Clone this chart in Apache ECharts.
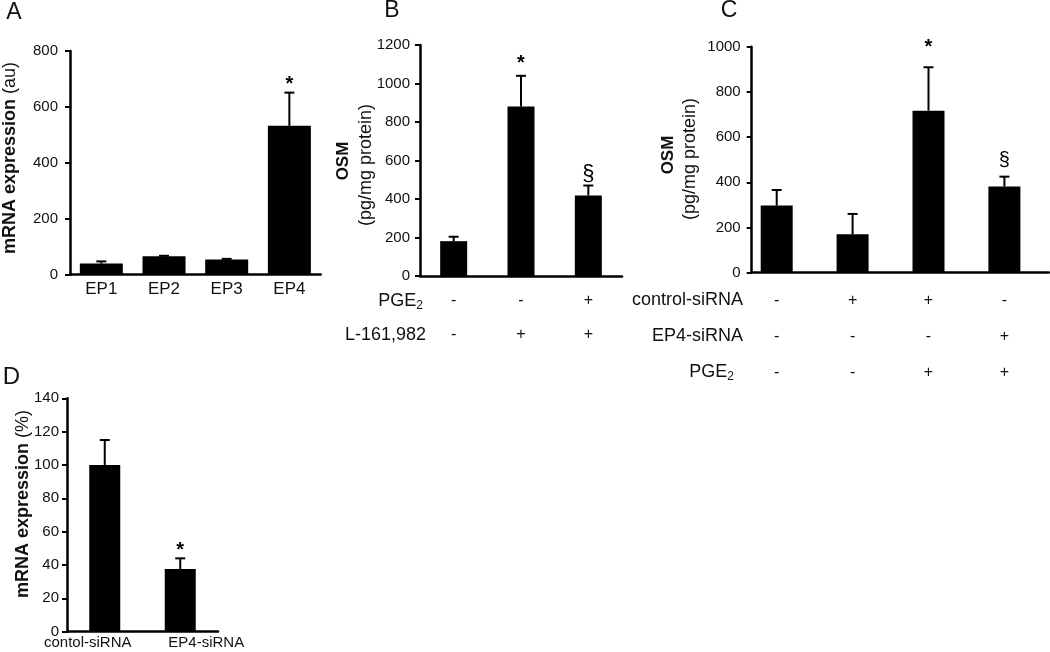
<!DOCTYPE html>
<html>
<head>
<meta charset="utf-8">
<script src="https://cdn.jsdelivr.net/npm/echarts@6/dist/echarts.min.js"></script>
<style>
html,body{margin:0;padding:0;background:#fff;}
#chart{width:1050px;height:652px;}
</style>
</head>
<body>
<div id="chart"></div>
<script>
// ---------- DATA ----------
// Panel A
const catsA = ['EP1', 'EP2', 'EP3', 'EP4'];
const valsA = [39, 65, 54, 532];
const errA  = [47, 67, 56, 651];
const markA = ['', '', '', '*'];
const ticksA = [0, 200, 400, 600, 800];

// Panel B
const pgeB   = ['-', '-', '+'];
const lB     = ['-', '+', '+'];
const valsB  = [181, 880, 418];
const errB   = [204, 1040, 470];
const markB  = ['', '*', '§'];
const ticksB = [0, 200, 400, 600, 800, 1000, 1200];

// Panel C
const ctrlC  = ['-', '+', '+', '-'];
const ep4C   = ['-', '-', '-', '+'];
const pgeC   = ['-', '-', '+', '+'];
const valsC  = [297, 170, 717, 381];
const errC   = [366, 260, 909, 425];
const markC  = ['', '', '*', '§'];
const ticksC = [0, 200, 400, 600, 800, 1000];

// Panel D
const catsD  = ['contol-siRNA', 'EP4-siRNA'];
const valsD  = [100, 37.6];
const errD   = [115, 44];
const markD  = ['', '*'];
const ticksD = [0, 20, 40, 60, 80, 100, 120, 140];

// ---------- STYLE / BUILD ----------
const FONT = 'Arial, "Liberation Sans", Helvetica, sans-serif';
const BLACK = '#000';

function yAxisCfg(gridIndex, ticks, fontSize, margin, show) {
  return {
    type: 'value', gridIndex,
    min: ticks[0], max: ticks[ticks.length - 1], interval: ticks[1] - ticks[0],
    axisLine: { show: show, lineStyle: { color: BLACK, width: 2.5 } },
    axisTick: { show: show, length: 5, lineStyle: { color: BLACK, width: 2 } },
    axisLabel: { show: show, color: '#111', fontSize, fontFamily: FONT, margin, formatter: v => String(v) },
    splitLine: { show: false }
  };
}

function xCatCfg(gridIndex, n, formatter, fontSize, margin, lineHeight, showLine, rich) {
  const data = [];
  for (let i = 0; i < n; i++) data.push(String(i));
  const lbl = { color: '#111', fontSize, fontFamily: FONT, margin, formatter, interval: 0 };
  if (lineHeight) lbl.lineHeight = lineHeight;
  if (rich) lbl.rich = rich;
  return {
    type: 'category', gridIndex, data,
    axisLine: { show: showLine, lineStyle: { color: BLACK, width: 2.5 } },
    axisTick: { show: false },
    axisLabel: lbl,
    splitLine: { show: false }
  };
}

function barSeries(xi, yi, vals, width) {
  return {
    type: 'bar', xAxisIndex: xi, yAxisIndex: yi, data: vals, barWidth: width,
    itemStyle: { color: BLACK }, silent: true, animation: false
  };
}

function errSeries(xi, yi, vals, errs, marks, gaps) {
  return {
    type: 'custom', xAxisIndex: xi, yAxisIndex: yi, silent: true, animation: false, z: 5,
    data: vals.map((v, i) => [i, v, errs[i]]),
    renderItem(params, api) {
      const i = api.value(0);
      const p0 = api.coord([i, api.value(1)]);
      const p1 = api.coord([i, api.value(2)]);
      const ch = [
        { type: 'line', shape: { x1: p0[0], y1: p0[1], x2: p1[0], y2: p1[1] }, style: { stroke: BLACK, lineWidth: 2 } },
        { type: 'line', shape: { x1: p1[0] - 5, y1: p1[1], x2: p1[0] + 5, y2: p1[1] }, style: { stroke: BLACK, lineWidth: 2 } }
      ];
      const m = marks[params.dataIndex];
      if (m) {
        const isStar = m === '*';
        ch.push({
          type: 'text', x: p1[0], y: p1[1] - (isStar ? gaps.star : gaps.sect),
          style: { text: m, fill: BLACK, fontFamily: FONT, fontSize: isStar ? gaps.starSize : gaps.sectSize,
                   fontWeight: isStar ? 'bold' : 'normal', align: 'center', verticalAlign: 'middle' }
        });
      }
      return { type: 'group', children: ch };
    }
  };
}

const grids = [
  { left: 70, top: 51, width: 250.7, height: 223.5 },        // A
  { left: 420, top: 45, width: 202, height: 231 },           // B
  { left: 751.7, top: 46.7, width: 297.3, height: 226 },     // C axes
  { left: 738.75, top: 46.7, width: 303.6, height: 226 },    // C bars
  { left: 67, top: 398.3, width: 151, height: 233.4 }        // D
].map(g => Object.assign({ outerBoundsMode: 'none', containLabel: false }, g));

const xAxes = [
  xCatCfg(0, catsA.length, (v, i) => catsA[i], 17, 6, null, true),
  xCatCfg(1, pgeB.length, (v, i) => pgeB[i] + '\n' + lB[i], 16, 8, 34, true),
  { type: 'value', gridIndex: 2, min: 0, max: 1, axisLine: { show: true, onZero: false, lineStyle: { color: BLACK, width: 2.5 } },
    axisTick: { show: false }, axisLabel: { show: false }, splitLine: { show: false } },
  xCatCfg(3, ctrlC.length, (v, i) => ctrlC[i] + '\n' + ep4C[i] + '\n' + pgeC[i], 16, 9.5, 36, false),
  xCatCfg(4, catsD.length, (v, i) => '{d' + i + '|' + catsD[i] + '}', 15, 4, null, true, {
    d0: { fontSize: 15, fontFamily: FONT, color: '#111', padding: [0, 34, 0, 0] },
    d1: { fontSize: 15, fontFamily: FONT, color: '#111', padding: [0, 0, 0, 52] }
  })
];

const yAxes = [
  yAxisCfg(0, ticksA, 15, 12, true),
  yAxisCfg(1, ticksB, 15, 10, true),
  yAxisCfg(2, ticksC, 15, 11, true),
  yAxisCfg(3, ticksC, 15, 11, false),
  yAxisCfg(4, ticksD, 15, 8, true)
];

const series = [
  barSeries(0, 0, valsA, 43),
  errSeries(0, 0, valsA, errA, markA, { star: 8, sect: 12, starSize: 20, sectSize: 20 }),
  barSeries(1, 1, valsB, 27),
  errSeries(1, 1, valsB, errB, markB, { star: 12, sect: 12, starSize: 20, sectSize: 22 }),
  barSeries(3, 3, valsC, 32),
  errSeries(3, 3, valsC, errC, markC, { star: 20, sect: 16, starSize: 20, sectSize: 20 }),
  barSeries(4, 4, valsD, 31),
  errSeries(4, 4, valsD, errD, markD, { star: 8, sect: 12, starSize: 20, sectSize: 20 })
];

function txt(x, y, text, opts) {
  return {
    type: 'text', x, y, silent: true,
    style: Object.assign({ text, fill: '#111', fontFamily: FONT, fontSize: 18, align: 'center', verticalAlign: 'middle' }, opts || {})
  };
}
const subRich = {
  m: { fontSize: 18, fontFamily: FONT, fill: '#111' },
  s: { fontSize: 12, fontFamily: FONT, fill: '#111', padding: [9, 0, 0, 0], verticalAlign: 'bottom' }
};
function rot(el) { el.rotation = Math.PI / 2; return el; }

const graphics = [
  // panel letters
  txt(14, 13, 'A', { fontSize: 23 }),
  txt(392, 11, 'B', { fontSize: 23 }),
  txt(729, 11, 'C', { fontSize: 23 }),
  txt(11.5, 377, 'D', { fontSize: 24 }),
  // y titles
  rot(txt(10, 158, '{b|mRNA expression} {n|(au)}', { rich: {
    b: { fontSize: 18, fontWeight: 'bold', fontFamily: FONT, fill: '#111' },
    n: { fontSize: 18, fontFamily: FONT, fill: '#111' } } })),
  rot(txt(343, 161, 'OSM', { fontSize: 17, fontWeight: 'bold' })),
  rot(txt(366, 165, '(pg/mg protein)', { fontSize: 18 })),
  rot(txt(668, 155, 'OSM', { fontSize: 17, fontWeight: 'bold' })),
  rot(txt(690, 159, '(pg/mg protein)', { fontSize: 18 })),
  rot(txt(23, 504, '{b|mRNA expression} {n|(%)}', { rich: {
    b: { fontSize: 18, fontWeight: 'bold', fontFamily: FONT, fill: '#111' },
    n: { fontSize: 18, fontFamily: FONT, fill: '#111' } } })),
  // row headers B
  txt(423, 301, '{m|PGE}{s|2}', { align: 'right', rich: subRich }),
  txt(426, 335, 'L-161,982', { align: 'right' }),
  // row headers C
  txt(743, 300, 'control-siRNA', { align: 'right' }),
  txt(743, 336.5, 'EP4-siRNA', { align: 'right' }),
  txt(734, 372, '{m|PGE}{s|2}', { align: 'right', rich: subRich })
];

const chart = echarts.init(document.getElementById('chart'), null, { renderer: 'canvas' });
chart.setOption({
  backgroundColor: '#fff',
  animation: false,
  grid: grids,
  xAxis: xAxes,
  yAxis: yAxes,
  series,
  graphic: graphics
});
</script>
</body>
</html>
